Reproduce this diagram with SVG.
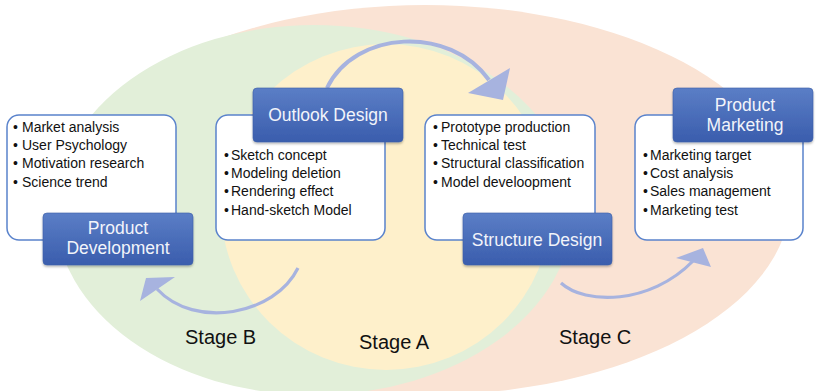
<svg xmlns="http://www.w3.org/2000/svg" width="816" height="391" viewBox="0 0 816 391">
  <defs>
    <linearGradient id="labelFill" x1="0" y1="0" x2="0" y2="1">
      <stop offset="0" stop-color="#5B7EC6"/>
      <stop offset="1" stop-color="#3A5DAD"/>
    </linearGradient>
    <filter id="shadow" x="-10%" y="-10%" width="120%" height="140%">
      <feDropShadow dx="0" dy="1.5" stdDeviation="1.2" flood-color="#000" flood-opacity="0.3"/>
    </filter>
  </defs>
  <style>
    .card { fill: #FFFFFF; stroke: #5A83CC; stroke-width: 1.5; }
    .label { fill: url(#labelFill); stroke: #3C5FA8; stroke-width: 0.6; filter: url(#shadow); }
    .label-text { font-family: "Liberation Sans", Arial, sans-serif; font-size: 17.5px; fill: #F2F4FA; text-anchor: middle; }
    .item { font-family: "Liberation Sans", Arial, sans-serif; font-size: 14px; fill: #111111; }
    .stage { font-family: "Liberation Sans", Arial, sans-serif; font-size: 20px; fill: #111111; }
    .flow { fill: none; stroke: #A7B3DF; }
    .head { fill: #A7B3DF; }
  </style>

  <!-- overlapping stage fields -->
  <g id="fields">
    <ellipse cx="425" cy="200" rx="365" ry="195" fill="#FAE3D4"/>
    <ellipse cx="314" cy="210" rx="259" ry="185" fill="#E2EFD9"/>
    <ellipse cx="386" cy="207" rx="165" ry="163" fill="#FEF0CB"/>
  </g>

  <!-- curved flow arrows -->
  <g id="connectors">
    <path class="flow" stroke-width="4" d="M327,88 C355,30 450,25 489,80"/>
    <polygon class="head" points="468,93 510,68 503,100"/>
    <path class="flow" stroke-width="3.2" d="M298,268 C275,315 195,330 157,289"/>
    <polygon class="head" points="175,277 140,301 146,278"/>
    <path class="flow" stroke-width="3.2" d="M561,283 C585,305 650,305 693,261"/>
    <polygon class="head" points="676,258 703,248 711,267"/>
  </g>

  <g id="product-development">
    <rect class="card" x="7" y="115" width="169" height="125" rx="12"/>
    <text class="item" x="13" y="132">•</text><text class="item" x="22" y="132">Market analysis</text>
    <text class="item" x="13" y="150">•</text><text class="item" x="22" y="150">User Psychology</text>
    <text class="item" x="13" y="168">•</text><text class="item" x="22" y="168">Motivation research</text>
    <text class="item" x="13" y="187">•</text><text class="item" x="22" y="187">Science trend</text>
    <rect class="label" x="43" y="213" width="150" height="52" rx="4"/>
    <text class="label-text" x="118" y="234">Product</text>
    <text class="label-text" x="118" y="254">Development</text>
  </g>

  <g id="outlook-design">
    <rect class="card" x="216" y="115" width="169" height="125" rx="12"/>
    <text class="item" x="224" y="160">•</text><text class="item" x="231" y="160">Sketch concept</text>
    <text class="item" x="224" y="178">•</text><text class="item" x="231" y="178">Modeling deletion</text>
    <text class="item" x="224" y="196">•</text><text class="item" x="231" y="196">Rendering effect</text>
    <text class="item" x="224" y="215">•</text><text class="item" x="231" y="215">Hand-sketch Model</text>
    <rect class="label" x="253" y="88" width="150" height="54" rx="4"/>
    <text class="label-text" x="328" y="121">Outlook Design</text>
  </g>

  <g id="structure-design">
    <rect class="card" x="425" y="115" width="170" height="125" rx="12"/>
    <text class="item" x="433" y="132">•</text><text class="item" x="441" y="132">Prototype production</text>
    <text class="item" x="433" y="150">•</text><text class="item" x="441" y="150">Technical test</text>
    <text class="item" x="433" y="168">•</text><text class="item" x="441" y="168">Structural classification</text>
    <text class="item" x="433" y="187">•</text><text class="item" x="441" y="187">Model develoopment</text>
    <rect class="label" x="463" y="213" width="149" height="52" rx="4"/>
    <text class="label-text" x="537" y="246">Structure Design</text>
  </g>

  <g id="product-marketing">
    <rect class="card" x="635" y="115" width="168" height="125" rx="12"/>
    <text class="item" x="643" y="160">•</text><text class="item" x="650" y="160">Marketing target</text>
    <text class="item" x="643" y="178">•</text><text class="item" x="650" y="178">Cost analysis</text>
    <text class="item" x="643" y="196">•</text><text class="item" x="650" y="196">Sales management</text>
    <text class="item" x="643" y="215">•</text><text class="item" x="650" y="215">Marketing test</text>
    <rect class="label" x="673" y="88" width="140" height="54" rx="4"/>
    <text class="label-text" x="745" y="111">Product</text>
    <text class="label-text" x="745" y="131">Marketing</text>
  </g>

  <g id="stage-labels">
    <text class="stage" x="185" y="344">Stage B</text>
    <text class="stage" x="359" y="349">Stage A</text>
    <text class="stage" x="559" y="344">Stage C</text>
  </g>
</svg>
